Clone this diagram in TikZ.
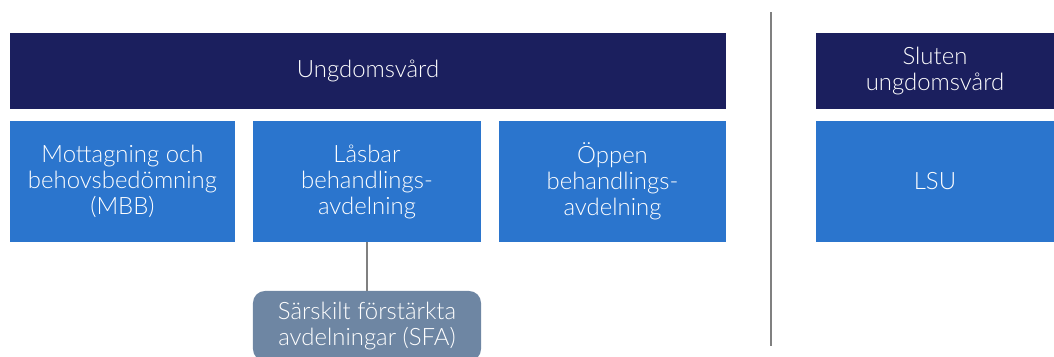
\documentclass[tikz,border=0pt]{standalone}
\usepackage{fontspec}
\setmainfont{Lato Light}
\usepackage{xcolor}
\definecolor{navy}{HTML}{1B1F5E}
\definecolor{midblue}{HTML}{2B75CD}
\definecolor{slate}{HTML}{6E86A3}

\begin{document}
\begin{tikzpicture}[x=0.025cm, y=-0.025cm,
    every node/.style={text=white, align=center, inner sep=0pt, font=\fontsize{17}{18.5}\selectfont},
    head/.style={fill=navy, minimum height=1.9cm},
    unit/.style={fill=midblue, minimum height=3.025cm},
    special/.style={fill=slate, rounded corners=0.3cm, minimum height=1.75cm}]
    \useasboundingbox (0,0) rectangle (1054,356);
    % header bars
    \node[head, minimum width=17.9cm] (youth) at (368,71) {Ungdomsvård};
    \node[head, minimum width=5.95cm] (closed) at (935,71) {Sluten\\ungdomsvård};
    % units
    \node[unit, minimum width=5.625cm] (mbb) at (122.5,181.5) {Mottagning och\\behovsbedömning\\(MBB)};
    \node[unit, minimum width=5.7cm] (lockable) at (367,181.5) {Låsbar\\behandlings-\\avdelning};
    \node[unit, minimum width=5.675cm] (open) at (612.5,181.5) {Öppen\\behandlings-\\avdelning};
    \node[unit, minimum width=5.95cm] (lsu) at (935,181.5) {LSU};
    \node[special, minimum width=5.7cm] (sfa) at (367,326) {Särskilt förstärkta\\avdelningar (SFA)};
    % connector and divider
    \draw[color=gray, line width=1.2pt] (lockable.south) -- (sfa.north);
    \coordinate (divtop) at (771,12);
    \coordinate (divbot) at (771,346);
    \draw[color=gray, line width=1.2pt] (divtop) -- (divbot);
\end{tikzpicture}
\end{document}
